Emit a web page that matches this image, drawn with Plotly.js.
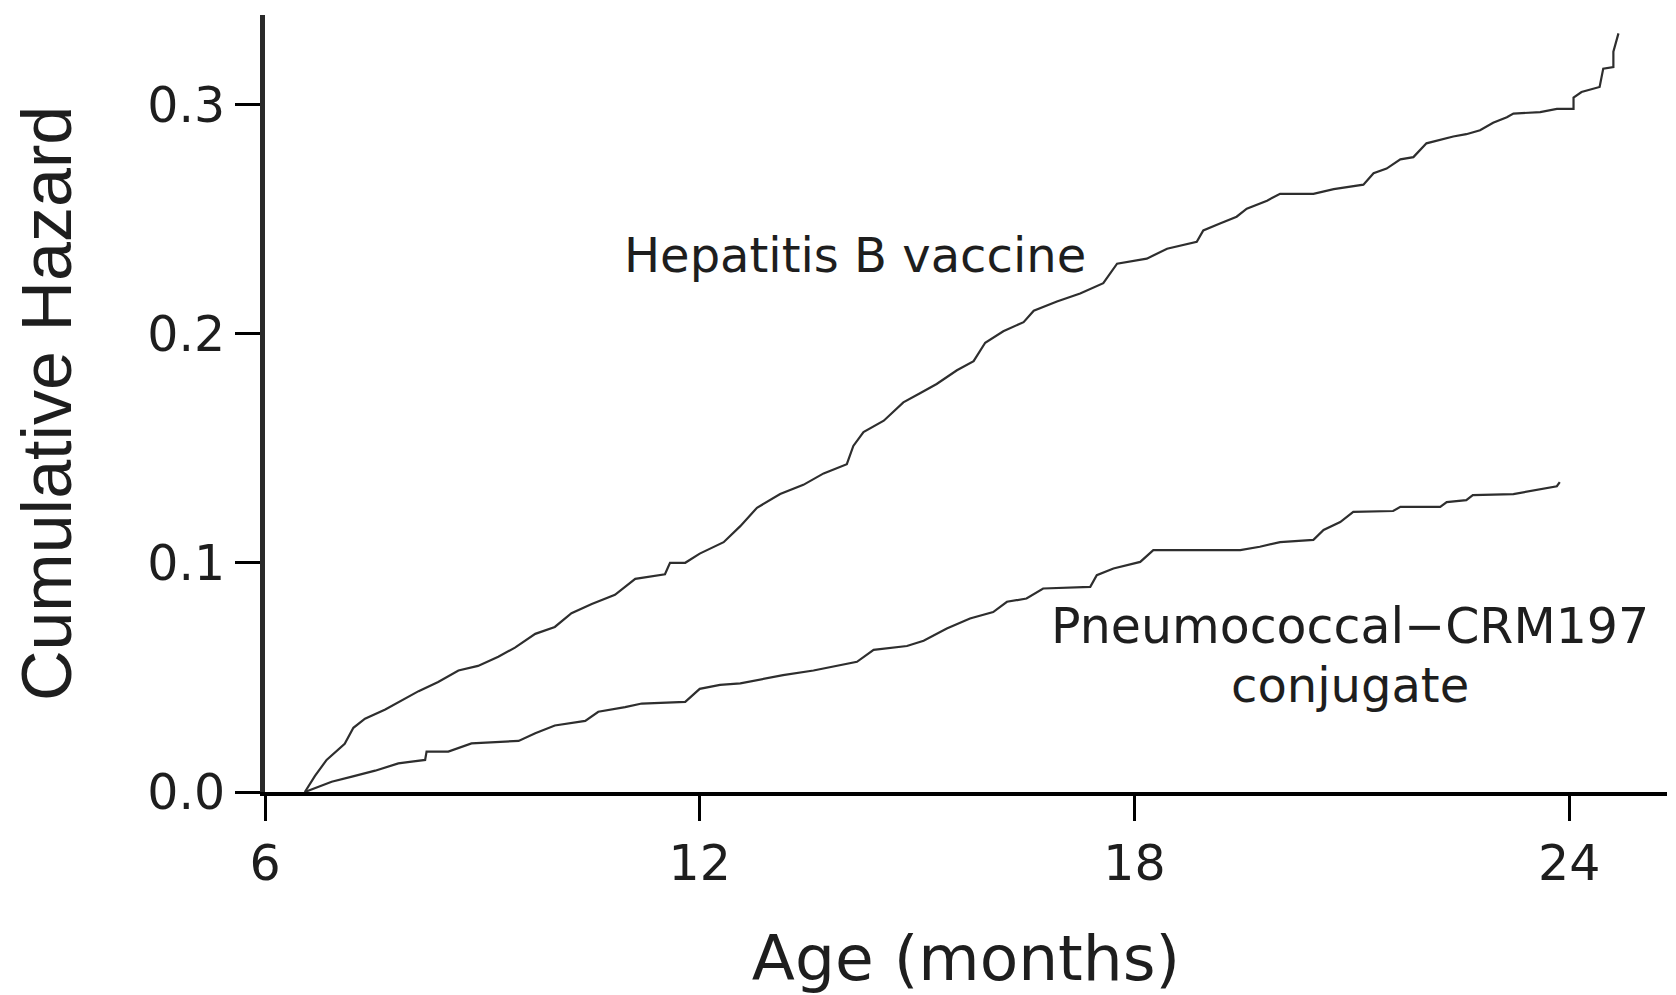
<!DOCTYPE html>
<html>
<head>
<meta charset="utf-8">
<script src="https://cdn.plot.ly/plotly-3.0.1.min.js"></script>
<style>
  html, body { margin: 0; padding: 0; background: #fff; }
  #chart { width: 1676px; height: 995px; }
</style>
</head>
<body>
<div id="chart"></div>
<script>
// Hepatitis B vaccine group: age (months) vs cumulative hazard
const hepAge = [6.55, 6.69, 6.85, 7.10, 7.22, 7.38, 7.66, 7.84, 8.12, 8.39, 8.67, 8.94, 9.22, 9.45, 9.73, 10.0, 10.23, 10.51, 10.83, 11.11, 11.52, 11.59, 11.80, 12.0, 12.33, 12.56, 12.79, 13.11, 13.43, 13.71, 14.03, 14.12, 14.26, 14.54, 14.81, 15.04, 15.27, 15.55, 15.78, 15.94, 16.19, 16.47, 16.61, 16.93, 17.25, 17.57, 17.76, 18.17, 18.45, 18.86, 18.95, 19.18, 19.41, 19.55, 19.83, 20.01, 20.47, 20.75, 21.16, 21.30, 21.48, 21.67, 21.85, 22.03, 22.40, 22.58, 22.77, 22.95, 23.14, 23.23, 23.60, 23.83, 24.06, 24.06, 24.17, 24.42, 24.47, 24.61, 24.61, 24.68];
const hepHazard = [0, 0.007, 0.014, 0.021, 0.028, 0.032, 0.036, 0.039, 0.044, 0.048, 0.053, 0.055, 0.059, 0.063, 0.069, 0.072, 0.078, 0.082, 0.086, 0.093, 0.095, 0.100, 0.100, 0.104, 0.109, 0.116, 0.124, 0.130, 0.134, 0.139, 0.143, 0.151, 0.157, 0.162, 0.170, 0.174, 0.178, 0.184, 0.188, 0.196, 0.201, 0.205, 0.210, 0.214, 0.2175, 0.222, 0.2305, 0.2327, 0.237, 0.240, 0.245, 0.248, 0.251, 0.2545, 0.258, 0.261, 0.261, 0.263, 0.265, 0.270, 0.272, 0.276, 0.277, 0.283, 0.286, 0.287, 0.2887, 0.292, 0.2944, 0.296, 0.2966, 0.298, 0.298, 0.303, 0.3054, 0.3076, 0.3156, 0.3163, 0.323, 0.331];

// Pneumococcal-CRM197 conjugate group
const pneuAge = [6.55, 6.92, 7.20, 7.52, 7.84, 8.21, 8.23, 8.53, 8.85, 9.50, 9.73, 10.0, 10.42, 10.60, 10.97, 11.20, 11.80, 12.0, 12.28, 12.56, 13.15, 13.57, 14.17, 14.40, 14.86, 15.09, 15.41, 15.73, 16.05, 16.24, 16.51, 16.74, 17.39, 17.48, 17.71, 18.08, 18.26, 19.46, 19.73, 20.01, 20.47, 20.61, 20.84, 21.02, 21.57, 21.67, 22.22, 22.31, 22.58, 22.67, 23.23, 23.55, 23.83, 23.87];
const pneuHazard = [0, 0.0045, 0.0067, 0.0093, 0.0125, 0.014, 0.0176, 0.0176, 0.0212, 0.0223, 0.0256, 0.029, 0.031, 0.035, 0.037, 0.0386, 0.0393, 0.045, 0.0467, 0.0474, 0.051, 0.053, 0.0568, 0.062, 0.0637, 0.066, 0.0713, 0.0757, 0.0785, 0.083, 0.0844, 0.0888, 0.0895, 0.0946, 0.0975, 0.1004, 0.1055, 0.1055, 0.107, 0.109, 0.110, 0.1143, 0.1178, 0.1222, 0.1226, 0.1244, 0.1244, 0.1265, 0.1273, 0.1295, 0.130, 0.1317, 0.1334, 0.1352];

const xTicks = [6, 12, 18, 24];
const yTicks = [0, 0.1, 0.2, 0.3];
const yTickText = ['0.0', '0.1', '0.2', '0.3'];
const hepLabel = 'Hepatitis B vaccine';
const pneuLabel1 = 'Pneumococcal\u2212CRM197';
const pneuLabel2 = 'conjugate';

const lineStyle = { color: '#2e2e2e', width: 2.2 };

const traces = [
  { x: hepAge, y: hepHazard, type: 'scatter', mode: 'lines', line: lineStyle, hoverinfo: 'skip', showlegend: false },
  { x: pneuAge, y: pneuHazard, type: 'scatter', mode: 'lines', line: lineStyle, hoverinfo: 'skip', showlegend: false }
];

const tickFont = { family: 'DejaVu Sans', size: 49, color: '#1e1e1e' };
const annFont = { family: 'DejaVu Sans', size: 48, color: '#1e1e1e' };

const layout = {
  width: 1676, height: 995,
  paper_bgcolor: '#ffffff', plot_bgcolor: '#ffffff',
  margin: { l: 265, r: 9, t: 15, b: 203 },
  showlegend: false,
  xaxis: {
    range: [6, 25.35],
    tickvals: xTicks, ticktext: xTicks.map(String),
    ticks: 'outside', ticklen: 25, tickwidth: 3, tickcolor: '#000',
    showline: true, linecolor: '#000', linewidth: 4,
    showgrid: false, zeroline: false,
    tickfont: tickFont,
    title: { text: 'Age (months)', font: { family: 'DejaVu Sans', size: 63, color: '#1e1e1e' }, standoff: 51 }
  },
  yaxis: {
    range: [0, 0.339],
    tickvals: yTicks, ticktext: yTickText,
    ticks: 'outside', ticklen: 25, tickwidth: 3, tickcolor: '#000',
    showline: true, linecolor: '#2a2a2a', linewidth: 5,
    showgrid: false, zeroline: false,
    tickfont: tickFont,
    title: { text: 'Cumulative Hazard', font: { family: 'Liberation Sans', size: 70, color: '#1e1e1e' }, standoff: 54 }
  },
  annotations: [
    { x: 14.14, y: 0.2345, xref: 'x', yref: 'y', text: hepLabel, showarrow: false, font: annFont, xanchor: 'center', yanchor: 'middle' },
    { x: 20.97, y: 0.0722, xref: 'x', yref: 'y', text: pneuLabel1, showarrow: false, font: { family: 'DejaVu Sans', size: 49, color: '#1e1e1e' }, xanchor: 'center', yanchor: 'middle' },
    { x: 20.97, y: 0.0465, xref: 'x', yref: 'y', text: pneuLabel2, showarrow: false, font: annFont, xanchor: 'center', yanchor: 'middle' }
  ]
};

Plotly.newPlot('chart', traces, layout, { staticPlot: true, displayModeBar: false });
</script>
</body>
</html>
